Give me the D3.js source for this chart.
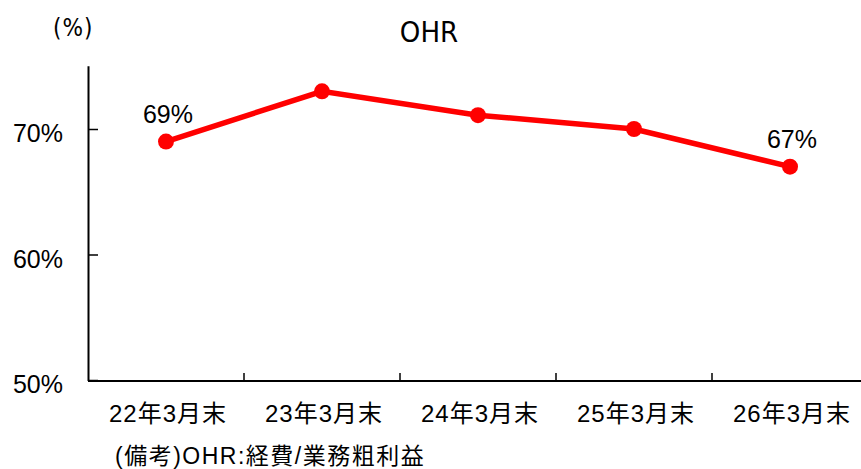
<!DOCTYPE html>
<html>
<head>
<meta charset="utf-8">
<script src="https://cdn.jsdelivr.net/npm/d3@7"></script>
<style>
  body { margin: 0; background: #fff; }
  svg { display: block; }
  text { font-family: "Liberation Sans", Arial, "Noto Sans CJK JP", sans-serif; fill: #000; }
</style>
</head>
<body>
<svg id="chart" width="861" height="469"></svg>
<script>
// OHR by fiscal year-end
const categories = ["22年3月末", "23年3月末", "24年3月末", "25年3月末", "26年3月末"];
const ohrValues = [69, 73.0, 71.1, 70.0, 67];
const labelledPoints = [0, 4];
const yTicks = [50, 60, 70];

const svg = d3.select("#chart");
const plotLeft = 88, plotRight = 868, plotTop = 66.25, plotBottom = 380;

const x = d3.scaleBand().domain(categories).range([plotLeft, plotRight]).padding(0);
const y = d3.scaleLinear().domain([50, 75]).range([plotBottom, plotTop]);
const cx = c => x(c) + x.bandwidth() / 2;

// y axis (ticks point inward)
const yAxis = d3.axisRight(y).tickValues(yTicks).tickSize(10).tickFormat("");
const gy = svg.append("g").attr("transform", `translate(${plotLeft},0)`).call(yAxis);
gy.select(".domain").attr("d", `M0.5,${plotTop}V${plotBottom + 1}`).attr("stroke", "#000").attr("stroke-width", 2);
gy.selectAll(".tick line").attr("stroke", "#000").attr("stroke-width", 1.5);

svg.selectAll(".ylab").data(yTicks).join("text")
  .attr("class", "ylab")
  .attr("x", 63).attr("y", d => y(d) + 13)
  .attr("text-anchor", "end")
  .style("font-size", "25px")
  .text(d => d + "%");

// x axis with ticks at category boundaries
svg.append("line").attr("x1", plotLeft).attr("x2", 861).attr("y1", plotBottom + 1).attr("y2", plotBottom + 1)
  .attr("stroke", "#000").attr("stroke-width", 2);
svg.selectAll(".xtick").data(categories.slice(1)).join("line")
  .attr("class", "xtick")
  .attr("x1", d => x(d)).attr("x2", d => x(d))
  .attr("y1", plotBottom + 1).attr("y2", plotBottom - 7)
  .attr("stroke", "#000").attr("stroke-width", 1.5);

svg.selectAll(".xlab").data(categories).join("text")
  .attr("class", "xlab")
  .attr("x", d => cx(d) + 2).attr("y", 422)
  .attr("text-anchor", "middle")
  .style("font-size", "24px")
  .style("letter-spacing", "1px")
  .text(d => d);

// line and markers
const line = d3.line()
  .x((d, i) => cx(categories[i]))
  .y(d => y(d));
svg.append("path").datum(ohrValues)
  .attr("d", line)
  .attr("fill", "none").attr("stroke", "#ff0000").attr("stroke-width", 5.5);
svg.selectAll(".pt").data(ohrValues).join("circle")
  .attr("class", "pt")
  .attr("cx", (d, i) => cx(categories[i]))
  .attr("cy", d => y(d))
  .attr("r", 8)
  .attr("fill", "#ff0000");

// value labels
svg.selectAll(".vlab").data(labelledPoints).join("text")
  .attr("class", "vlab")
  .attr("x", i => cx(categories[i]) + 2)
  .attr("y", i => y(ohrValues[i]) - 19)
  .attr("text-anchor", "middle")
  .style("font-size", "25px")
  .text(i => ohrValues[i] + "%");

// title, unit and note
svg.append("text").attr("x", 429).attr("y", 42).attr("text-anchor", "middle")
  .style("font-family", "'DejaVu Sans Condensed', 'DejaVu Sans', sans-serif")
  .style("font-stretch", "condensed")
  .style("font-size", "29px").text("OHR");
svg.append("text").attr("x", 53).attr("y", 36)
  .style("font-family", "'DejaVu Sans Condensed', 'DejaVu Sans', sans-serif")
  .style("font-stretch", "condensed")
  .style("letter-spacing", "1px")
  .style("font-size", "24px").text("(%)");
svg.append("text").attr("x", 115).attr("y", 464)
  .style("font-size", "23px")
  .style("letter-spacing", "1.5px")
  .text("(備考)OHR:経費/業務粗利益");
</script>
</body>
</html>
